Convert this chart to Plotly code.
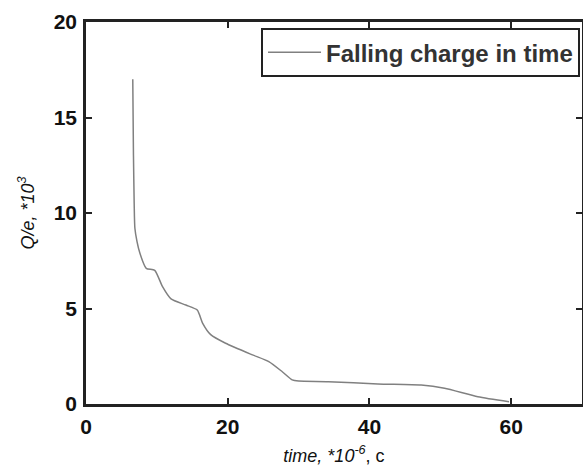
import plotly.graph_objects as go

time_us = [6.6, 6.7, 6.8, 6.9, 7.2, 7.6, 8.5, 9.7, 10.8, 12.0, 14.1, 15.7, 16.45, 17.6,
           19.7, 23.5, 25.8, 27.7, 29.1, 30.0, 34.2, 41.2, 47.3, 50.6, 55.3, 59.7]
charge_k = [17.0, 13.0, 10.5, 9.2, 8.5, 7.9, 7.1, 7.0, 6.14, 5.5, 5.18, 4.92, 4.24, 3.63,
            3.18, 2.57, 2.22, 1.69, 1.26, 1.2, 1.17, 1.05, 0.99, 0.82, 0.38, 0.12]
x_ticks = [0, 20, 40, 60]
y_ticks = [0, 5, 10, 15, 20]

FONT = "Liberation Sans, Arial, sans-serif"

fig = go.Figure()
fig.add_trace(go.Scatter(
    x=time_us, y=charge_k, mode="lines",
    line=dict(color="#808080", width=1.5, shape="spline", smoothing=0.6),
    name="Falling charge in time",
))

axis_common = dict(
    showline=True, linecolor="#222222", linewidth=2.5, mirror="ticks",
    ticks="inside", ticklen=6, tickwidth=2, tickcolor="#222222",
    showgrid=False, zeroline=False, automargin=False,
    tickfont=dict(family=FONT, size=21, color="#111111", weight="bold"),
)

fig.update_layout(
    width=583, height=471,
    margin=dict(l=86, r=1, t=22, b=67),
    paper_bgcolor="white", plot_bgcolor="white",
    xaxis=dict(range=[0, 70], tickvals=x_ticks, ticklabelstandoff=2, **axis_common,
               title=dict(text="<i>time, *10<sup>-6</sup></i>, c", standoff=13,
                          font=dict(family=FONT, size=18, color="#111111"))),
    yaxis=dict(range=[0, 20], tickvals=y_ticks, ticklabelstandoff=2, **axis_common,
               title=dict(text="<i>Q/e, *10<sup>3</sup></i>", standoff=15,
                          font=dict(family=FONT, size=18, color="#111111"))),
    showlegend=True,
    legend=dict(x=0.996, y=0.984, xanchor="right", yanchor="top", itemwidth=53,
                bordercolor="#222222", borderwidth=2, bgcolor="white",
                font=dict(family=FONT, size=24, color="#333333", weight="bold")),
)

fig.write_html(
    "out.html",
    config={"displayModeBar": False},
    post_script="document.body.style.margin='0';document.body.style.overflow='hidden';",
)
